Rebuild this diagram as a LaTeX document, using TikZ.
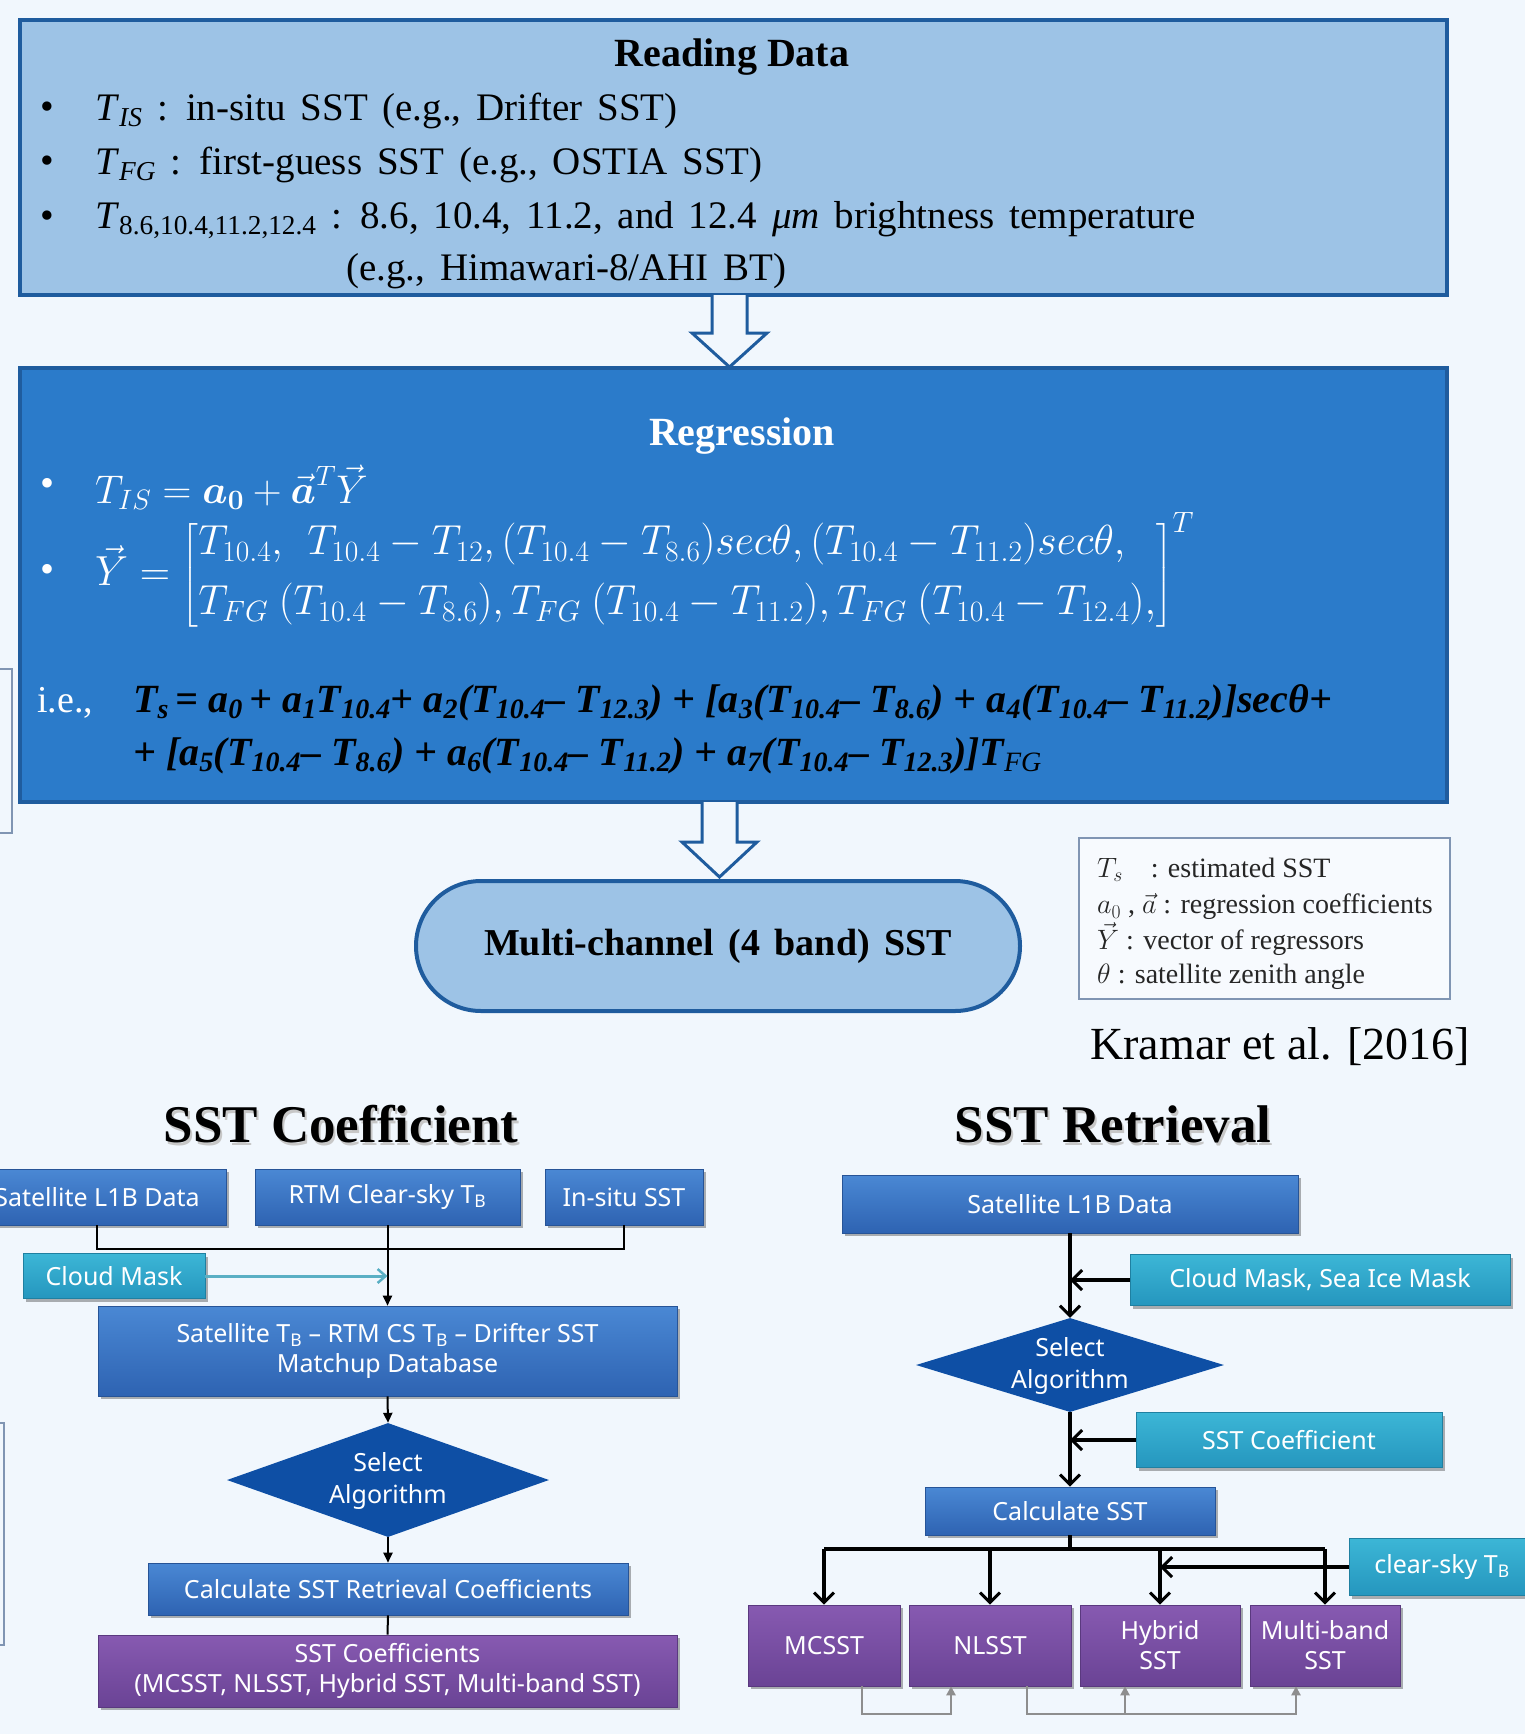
\RequirePackage{fix-cm}
\documentclass[tikz,border=0pt]{standalone}
\usepackage{amsmath}
\usepackage{fontspec}
\setmainfont{Liberation Serif}
\newfontfamily\fcf{Noto Sans}
\usetikzlibrary{shapes.geometric,arrows.meta,shadows,calc}
\definecolor{bgc}{HTML}{F1F7FD}
\definecolor{lbf}{HTML}{9DC3E6}
\definecolor{dkb}{HTML}{1F5C9E}
\definecolor{regf}{HTML}{2B7BCA}
\definecolor{fbt}{HTML}{4A88D4}
\definecolor{fbb}{HTML}{2E63B2}
\definecolor{tlt}{HTML}{3CB6D6}
\definecolor{tlb}{HTML}{2596BE}
\definecolor{ppt}{HTML}{875AB1}
\definecolor{ppb}{HTML}{6A4395}
\definecolor{dmd}{HTML}{0E4FA5}
\definecolor{teala}{HTML}{5AAFC4}
\definecolor{grl}{HTML}{8E8E8E}
\definecolor{lgb}{HTML}{8095B3}
\newcommand\fs[2]{\fontsize{#1}{#2}\selectfont}
\newcommand\Tsb[2]{\textit{#1}\textsubscript{#2}}
\newcommand\widesp{\spaceskip=0.38em plus 0.1em minus 0.05em\relax}
\newcommand\ztxt[1]{\raisebox{-0.3em}[0pt][0pt]{\makebox[0pt]{\begin{tabular}{@{}c@{}}#1\end{tabular}}}}
\tikzset{
  fcbox/.style={rectangle, inner sep=2pt, align=center, text=white,
    font=\fcf\fs{25}{30},
    drop shadow={shadow xshift=3pt,shadow yshift=-3pt,opacity=0.3,fill=black}},
  bluebox/.style={fcbox, top color=fbt, bottom color=fbb, draw=fbb!85!black, line width=0.6pt},
  tealbox/.style={fcbox, top color=tlt, bottom color=tlb, draw=tlb!85!black, line width=0.6pt},
  purbox/.style={fcbox, top color=ppt, bottom color=ppb, draw=ppb!85!black, line width=0.6pt},
  dia/.style={diamond, fill=dmd, text=white, font=\fcf\fs{25}{32}, inner sep=0pt},
  thinln/.style={draw=black, line width=2pt},
  thinar/.style={thinln, -{Triangle[length=10pt,width=9pt]}},
  thickln/.style={draw=black, line width=3.2pt},
  thickar/.style={thickln, -{Straight Barb[length=10pt,width=20pt,line width=3pt]}},
  grar/.style={draw=grl, line width=2.5pt, -{Triangle[length=9pt,width=9pt]}},
  txt/.style={inner sep=0pt, anchor=west},
  hollow/.style={draw=dkb, line width=3pt, fill=bgc, line join=miter},
}
\begin{document}
\begin{tikzpicture}[x=1pt,y=-1pt]
\useasboundingbox (0,0) rectangle (1525,1734);
\fill[bgc] (0,0) rectangle (1525,1734);

% left edge artefacts
\draw[lgb, line width=2pt] (0,669) -- (12,669) -- (12,833) -- (0,833);
\draw[lgb, line width=2.5pt] (0,1423) -- (4,1423) -- (4,1645) -- (0,1645);

% ---------- Reading Data ----------
\node[draw=dkb, line width=4pt, fill=lbf, minimum width=1427pt, minimum height=275pt] (read) at (733.5,157.5) {};
\node[inner sep=0pt, font=\bfseries\fs{40}{48}] (readt) at (732,57) {Reading Data};
\begin{scope}[every node/.append style={font=\fs{39}{47}\widesp}]
\node[txt] (rb1) at (40,111) {\textbullet};
\node[txt] (rb2) at (40,165) {\textbullet};
\node[txt] (rb3) at (40,220) {\textbullet};
\node[txt] (r1) at (95,111) {\Tsb{T}{\textit{IS}} : in-situ SST (e.g., Drifter SST)};
\node[txt] (r2) at (95,165) {\Tsb{T}{\textit{FG}} : first-guess SST (e.g., OSTIA SST)};
\node[txt] (r3) at (95,220) {\Tsb{T}{8.6,10.4,11.2,12.4} : 8.6, 10.4, 11.2, and 12.4 \textit{μm} brightness temperature};
\node[txt] (r4) at (346,271) {(e.g., Himawari-8/AHI BT)};
\end{scope}

% hollow arrow 1
\draw[hollow] (712,295) -- (712,333) -- (692,333) -- (729.5,367) -- (767,333) -- (747,333) -- (747,295);

% ---------- Regression ----------
\node[draw=dkb, line width=4pt, fill=regf, minimum width=1427pt, minimum height=434pt] (reg) at (733.5,585) {};
\node[inner sep=0pt, text=white, font=\bfseries\fs{40}{48}] (regt) at (742,436) {Regression};
\begin{scope}[every node/.append style={text=white}]
\node[txt, font=\fs{40}{48}] (gb1) at (40,487) {\textbullet};
\node[txt, font=\fs{40}{48}] (gb2) at (40,573) {\textbullet};
\node[txt, font=\fs{40}{48}] (g1) at (95,487) {$T_{IS}=\boldsymbol{a_0}+\vec{\boldsymbol{a}}^{T}\vec{Y}$};
\node[txt, font=\fs{42}{48}] (g2) at (95,571) {$\vec{Y}=\left[\begin{array}{@{}l@{}}
T_{10.4},\ \,T_{10.4}-T_{12}, (T_{10.4}-T_{8.6})sec\theta, (T_{10.4}-T_{11.2})sec\theta,\\[12pt]
T_{FG}\ (T_{10.4}-T_{8.6}), T_{FG}\ (T_{10.4}-T_{11.2}), T_{FG}\ (T_{10.4}-T_{12.4}),
\end{array}\right]^{T}$};
\end{scope}
\node[txt, text=white, font=\fs{38}{46}] (ie) at (37,703) {i.e.,};
\begin{scope}[every node/.append style={text=black, font=\bfseries\itshape\fs{40}{46}}]
\node[txt] (f1) at (133,703) {\Tsb{T}{s}\,= a\textsubscript{0}\,+ a\textsubscript{1}T\textsubscript{10.4}+ a\textsubscript{2}(T\textsubscript{10.4}– T\textsubscript{12.3}) + [a\textsubscript{3}(T\textsubscript{10.4}– T\textsubscript{8.6}) + a\textsubscript{4}(T\textsubscript{10.4}– T\textsubscript{11.2})]secθ+};
\node[txt] (f2) at (133,756) {+ [a\textsubscript{5}(T\textsubscript{10.4}– T\textsubscript{8.6}) + a\textsubscript{6}(T\textsubscript{10.4}– T\textsubscript{11.2}) + a\textsubscript{7}(T\textsubscript{10.4}– T\textsubscript{12.3})]T\textsubscript{\mdseries FG}};
\end{scope}

% hollow arrow 2
\draw[hollow] (702,802) -- (702,842) -- (682,842) -- (719.5,877) -- (757,842) -- (737,842) -- (737,802);

% ---------- Multi-channel ----------
\node[draw=dkb, line width=4pt, fill=lbf, minimum width=604pt, minimum height=130pt, rounded corners=65pt,
  font=\bfseries\fs{38}{46}\widesp] (mc) at (718,946) {Multi-channel (4 band) SST};

% legend
\node[draw=lgb, line width=2pt, fill=bgc!60!white, minimum width=371pt, minimum height=161pt] (leg) at (1264.5,918.5) {};
\begin{scope}[every node/.append style={text=black!85, font=\fs{28}{34}}]
\node[txt] (l1) at (1097,870) {$T_s$\quad: estimated SST};
\node[txt] (l2) at (1097,907) {$\smash{a_0}$ , $\smash{\vec{a}}$ : regression coefficients};
\node[txt] (l3) at (1097,943) {$\smash{\vec{Y}}$ : vector of regressors};
\node[txt] (l4) at (1097,977) {$\theta$ : satellite zenith angle};
\end{scope}
\node[inner sep=0pt, font=\fs{46}{54}] (kr) at (1280,1047) {Kramar et al. [2016]};

% titles with shadow
\node[inner sep=0pt, font=\bfseries\fs{53}{60}, text=black!22] (t1s) at (343,1127) {SST Coefficient};
\node[inner sep=0pt, font=\bfseries\fs{53}{60}] (t1) at (341,1124) {SST Coefficient};
\node[inner sep=0pt, font=\bfseries\fs{53}{60}, text=black!22] (t2s) at (1115,1127) {SST Retrieval};
\node[inner sep=0pt, font=\bfseries\fs{53}{60}] (t2) at (1113,1124) {SST Retrieval};

% ---------- left flowchart ----------
\node[bluebox, minimum width=258pt, minimum height=56pt] (l1b) at (97,1197) {Satellite L1B Data};
\node[bluebox, minimum width=265pt, minimum height=56pt] (rtm) at (387.5,1197) {RTM Clear-sky T\textsubscript{B}};
\node[bluebox, minimum width=158pt, minimum height=56pt] (ins) at (624,1197) {In-situ SST};
\node[tealbox, minimum width=182pt, minimum height=45pt] (cm) at (114,1276) {Cloud Mask};
\node[bluebox, minimum width=579pt, minimum height=90pt] (mat) at (387.5,1351)
  {Satellite T\textsubscript{B} – RTM CS T\textsubscript{B} – Drifter SST\\Matchup Database};
\node[dia, minimum width=322pt, minimum height=114pt] (d1) at (388,1480) {\ztxt{Select\\Algorithm}};
\node[bluebox, minimum width=480pt, minimum height=52pt] (cc) at (388,1589) {Calculate SST Retrieval Coefficients};
\node[purbox, minimum width=579pt, minimum height=72pt] (cf) at (387.5,1671)
  {SST Coefficients\\(MCSST, NLSST, Hybrid SST, Multi-band SST)};
\coordinate (bus) at (388,1249);
\draw[thinln] (l1b.south) -- (l1b.south |- bus) -- (ins.south |- bus) -- (ins.south);
\draw[thinar] (rtm.south) -- (mat.north);
\draw[draw=teala, line width=3pt, -{Straight Barb[length=8pt,width=14pt,line width=2.5pt]}] (cm.east) -- (cm.east -| rtm.south);
\draw[thinar] (mat.south) -- (d1.north);
\draw[thinar] (d1.south) -- (cc.north);
\draw[thinln] (cc.south) -- (cf.north);

% ---------- right flowchart ----------
\node[bluebox, minimum width=456pt, minimum height=58pt] (r1b) at (1070,1204) {Satellite L1B Data};
\node[tealbox, minimum width=380pt, minimum height=51pt] (csm) at (1320,1280) {Cloud Mask, Sea Ice Mask};
\node[dia, minimum width=308pt, minimum height=94pt] (d2) at (1070,1365) {\ztxt{Select\\Algorithm}};
\node[tealbox, minimum width=306pt, minimum height=55pt] (sc) at (1289,1440) {SST Coefficient};
\node[bluebox, minimum width=290pt, minimum height=48pt] (cs) at (1070,1511) {Calculate SST};
\node[tealbox, minimum width=186pt, minimum height=57pt] (clr) at (1442,1567) {clear-sky T\textsubscript{B}};
\node[purbox, minimum width=152pt, minimum height=81pt] (mcs) at (824,1645.5) {MCSST};
\node[purbox, minimum width=162pt, minimum height=81pt] (nls) at (990,1645.5) {NLSST};
\node[purbox, minimum width=160pt, minimum height=81pt] (hyb) at (1160,1645.5) {Hybrid\\SST};
\node[purbox, minimum width=150pt, minimum height=81pt] (mbs) at (1325,1645.5) {Multi-band\\SST};

\draw[thickar] (r1b.south) -- (d2.north);
\draw[thickar] (csm.west) -- (csm.west -| d2.north);
\draw[thickar] (d2.south) -- (cs.north);
\draw[thickar] (sc.west) -- (sc.west -| d2.south);
\coordinate (br) at (1070,1549);
\draw[thickln] (cs.south) -- (br);
\draw[thickln] (mcs.north |- br) -- (mbs.north |- br);
\draw[thickar] (mcs.north |- br) -- (mcs.north);
\draw[thickar] (nls.north |- br) -- (nls.north);
\draw[thickar] (hyb.north |- br) -- (hyb.north);
\draw[thickar] (mbs.north |- br) -- (mbs.north);
\draw[thickar] (clr.west) -- (clr.west -| hyb.north);

% gray feedback lines
\coordinate (gl) at (900,1714);
\draw[grar] ([xshift=38pt]mcs.south) -- ([xshift=38pt]mcs.south |- gl) -| ([xshift=-39pt]nls.south);
\draw[grar] ([xshift=37pt]nls.south) -- ([xshift=37pt]nls.south |- gl) -| ([xshift=-29pt]mbs.south);
\draw[grar] ([xshift=-35pt]hyb.south |- gl) -- ([xshift=-35pt]hyb.south);
\end{tikzpicture}
\end{document}
